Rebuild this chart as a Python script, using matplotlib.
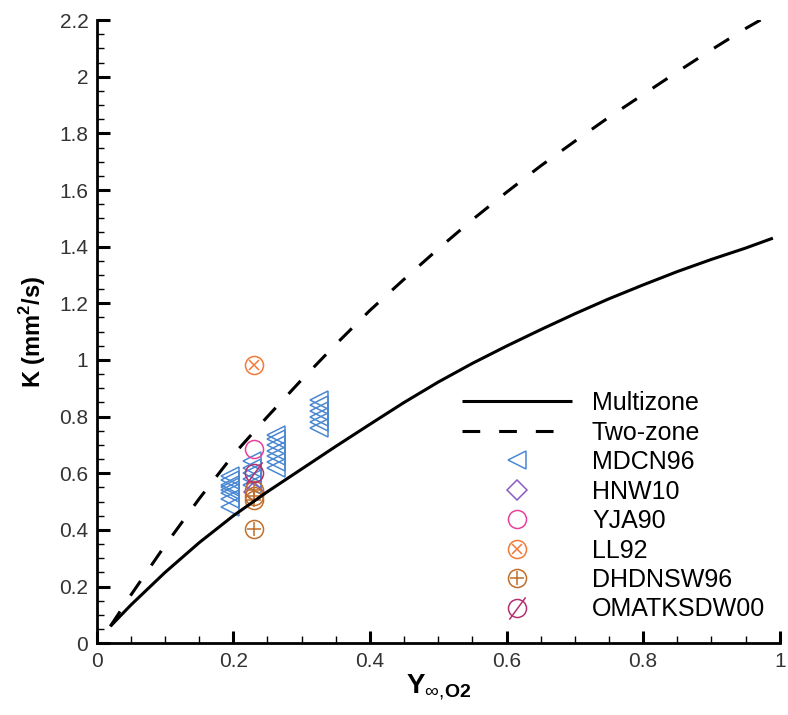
import matplotlib
matplotlib.use("Agg")
import matplotlib.pyplot as plt
import matplotlib.path as mpath
from matplotlib.legend_handler import HandlerTuple
from matplotlib.ticker import MultipleLocator, FormatStrFormatter

plt.rcParams['font.family'] = ['Liberation Sans', 'DejaVu Sans']
plt.rcParams['mathtext.fontset'] = 'custom'
plt.rcParams['mathtext.rm'] = 'Liberation Sans'
plt.rcParams['mathtext.bf'] = 'Liberation Sans:bold'

# model curves
y_o2 = [0.02, 0.05, 0.1, 0.15, 0.2, 0.25, 0.3, 0.35, 0.4, 0.45, 0.5,
        0.55, 0.6, 0.65, 0.7, 0.75, 0.8, 0.85, 0.9, 0.95, 0.99]
k_multizone = [0.06, 0.135, 0.25, 0.355, 0.45, 0.535, 0.615, 0.695, 0.773, 0.85, 0.922,
               0.988, 1.049, 1.107, 1.163, 1.216, 1.265, 1.312, 1.355, 1.395, 1.43]
k_twozone = [0.06, 0.17, 0.345, 0.51, 0.665, 0.80, 0.93, 1.055, 1.175, 1.285, 1.392,
             1.495, 1.592, 1.685, 1.772, 1.857, 1.937, 2.017, 2.095, 2.17, 2.225]

# experimental data
mdcn96_x = [0.195] * 8 + [0.228] * 5 + [0.263] * 7 + [0.326] * 6
mdcn96_k = [0.48, 0.51, 0.53, 0.54, 0.55, 0.56, 0.575, 0.59,
            0.56, 0.58, 0.60, 0.62, 0.645,
            0.62, 0.64, 0.66, 0.68, 0.70, 0.72, 0.735,
            0.76, 0.78, 0.80, 0.82, 0.84, 0.86]
hnw10_x = [0.23]
hnw10_k = [0.535]
yja90_x = [0.23]
yja90_k = [0.685]
ll92_x = [0.23]
ll92_k = [0.983]
dhdnsw96_x = [0.23, 0.23, 0.23, 0.23]
dhdnsw96_k = [0.54, 0.52, 0.505, 0.405]
omatksdw00_x = [0.23]
omatksdw00_k = [0.60]

slash = mpath.Path([(-0.55, -0.75), (0.55, 0.75)], [mpath.Path.MOVETO, mpath.Path.LINETO])

fig = plt.figure(figsize=(7.88, 7.15), dpi=100)
ax = fig.add_axes([0.1227, 0.1003, 0.8668, 0.8717])

mk = dict(linestyle='none', markerfacecolor='none', markeredgewidth=1.1)

h_mdcn, = ax.plot(mdcn96_x, mdcn96_k, marker='<', ms=13, color='#4a88d2', **mk)
h_hnw, = ax.plot(hnw10_x, hnw10_k, marker='D', ms=10, color='#8a5cc0', **mk)
h_yja, = ax.plot(yja90_x, yja90_k, marker='o', ms=13, color='#e8409a', **mk)
h_ll_o, = ax.plot(ll92_x, ll92_k, marker='o', ms=13, color='#f07a3a', **mk)
h_ll_x, = ax.plot(ll92_x, ll92_k, marker='x', ms=7.5, color='#f07a3a', **mk)
h_dh_o, = ax.plot(dhdnsw96_x, dhdnsw96_k, marker='o', ms=13, color='#c06e2a', **mk)
h_dh_p, = ax.plot(dhdnsw96_x, dhdnsw96_k, marker='+', ms=10, color='#c06e2a', **mk)
h_om_o, = ax.plot(omatksdw00_x, omatksdw00_k, marker='o', ms=13, color='#b4306e', **mk)
h_om_s, = ax.plot(omatksdw00_x, omatksdw00_k, marker=slash, ms=16, color='#b4306e', **mk)

h_multi, = ax.plot(y_o2, k_multizone, color='black', lw=2.2, solid_capstyle='butt')
h_two, = ax.plot(y_o2, k_twozone, color='black', lw=2.2, linestyle=(0, (5.8, 6.2)),
                 dash_capstyle='butt')

ax.set_xlim(0, 1)
ax.set_ylim(0, 2.2)
ax.spines['top'].set_visible(False)
ax.spines['right'].set_visible(False)
for s in ['left', 'bottom']:
    ax.spines[s].set_linewidth(2.0)

ax.xaxis.set_major_locator(MultipleLocator(0.2))
ax.xaxis.set_minor_locator(MultipleLocator(0.05))
ax.yaxis.set_major_locator(MultipleLocator(0.2))
ax.yaxis.set_minor_locator(MultipleLocator(0.05))
ax.xaxis.set_major_formatter(FormatStrFormatter('%g'))
ax.yaxis.set_major_formatter(FormatStrFormatter('%g'))
ax.tick_params(which='major', direction='in', length=9, width=2.2,
               labelsize=15, labelcolor='#333333', pad=6)
ax.tick_params(which='minor', direction='in', length=5, width=1.0)

ax.set_xlabel(r'$\mathbf{Y}_{\infty{,}\mathbf{O2}}$', fontsize=20, labelpad=2)
ax.set_ylabel(r'K (mm$^\mathbf{2}$/s)', fontsize=17, fontweight='bold', labelpad=8)

handles = [h_multi, h_two, h_mdcn, h_hnw, h_yja, (h_ll_o, h_ll_x),
           (h_dh_o, h_dh_p), (h_om_o, h_om_s)]
labels = ['Multizone', 'Two-zone', 'MDCN96', 'HNW10', 'YJA90', 'LL92',
          'DHDNSW96', 'OMATKSDW00']
fig.legend(handles, labels, loc='upper left',
           bbox_to_anchor=(462 / 788, 1 - 391 / 715), bbox_transform=fig.transFigure,
           frameon=False, fontsize=18, handlelength=4.4, handletextpad=0.8,
           labelspacing=0.22, borderpad=0, borderaxespad=0,
           handler_map={tuple: HandlerTuple(ndivide=1, pad=0)})

fig.savefig('out.png', dpi=100)
